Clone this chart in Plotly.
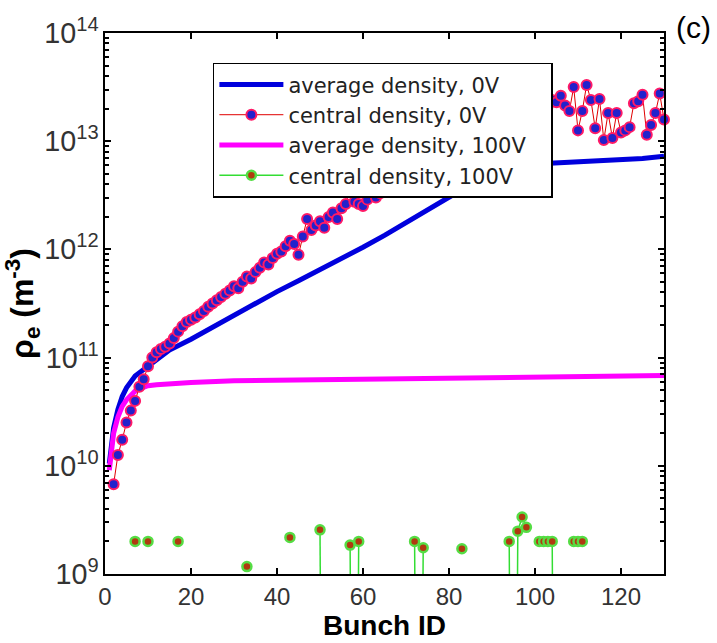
import plotly.graph_objects as go

# ---------------- data ----------------
# average density, 0V  (bunch id, log10 density)
avg0_x = [1, 2, 3, 4, 5, 6, 7, 8, 10, 12, 15, 20, 25, 30, 35, 40, 45, 50, 55, 60,
          65, 70, 75, 80, 85, 90, 95, 100, 105, 110, 115, 120, 125, 130]
avg0_log = [10.02, 10.35, 10.52, 10.64, 10.72, 10.78, 10.83, 10.86, 10.92, 10.97, 11.07,
            11.17, 11.28, 11.39, 11.51, 11.61, 11.71, 11.81, 11.92, 12.02, 12.13, 12.25,
            12.37, 12.49, 12.60, 12.69, 12.76, 12.79, 12.80, 12.81, 12.82, 12.82, 12.84, 12.86]

# average density, 100V
avg100_x = [1, 2, 3, 4, 5, 6, 7, 8, 10, 12, 15, 20, 30, 40, 50, 60, 70, 80, 90, 100,
            110, 120, 130]
avg100_log = [9.96, 10.30, 10.45, 10.55, 10.61, 10.65, 10.69, 10.71, 10.74, 10.75, 10.76,
              10.77, 10.785, 10.79, 10.80, 10.81, 10.81, 10.815, 10.82, 10.82, 10.83,
              10.83, 10.835]

# central density, 0V (one value per bunch, from bunch 2)
cen0_start = 2
cen0_log = [
    9.83, 10.10, 10.24, 10.40, 10.51, 10.60, 10.73, 10.80, 10.92,            # 2-10
    11.00, 11.05, 11.08, 11.10, 11.13, 11.18, 11.24, 11.29, 11.33, 11.35,     # 11-20
    11.37, 11.40, 11.43, 11.47, 11.50, 11.53, 11.56, 11.59, 11.62, 11.66,     # 21-30
    11.64, 11.70, 11.75, 11.73, 11.79, 11.83, 11.88, 11.86, 11.92, 11.96,     # 31-40
    11.98, 12.03, 12.08, 12.05, 11.95, 12.12, 12.28, 12.18, 12.22, 12.26,     # 41-50
    12.20, 12.30, 12.34, 12.28, 12.38, 12.42, 12.56, 12.44, 12.42, 12.40,     # 51-60
    12.46, 12.56, 12.48, 12.52, 12.58, 12.62, 12.66, 12.70, 12.68, 12.74,     # 61-70
    12.78, 12.80, 12.85, 12.83, 12.88, 12.92, 12.95, 12.93, 13.00, 13.04,     # 71-80
    13.02, 13.08, 13.12, 13.10, 13.16, 13.20, 13.18, 13.24, 13.28, 13.22,     # 81-90
    13.30, 13.34, 13.26, 13.38, 13.32, 13.40, 13.36, 13.30, 13.42, 13.35,     # 91-100
    13.28, 13.40, 13.33, 13.38, 13.36, 13.42, 13.33, 13.28, 13.50, 13.10,     # 101-110
    13.28, 13.52, 13.38, 13.12, 13.39, 13.01, 13.26, 13.03, 13.26, 13.08,     # 111-120
    13.10, 13.13, 13.35, 13.37, 13.43, 13.06, 13.15, 13.26, 13.44, 13.20,     # 121-130
]

# central density, 100V: bunches with a measured value
cen100_x = [7, 10, 17, 33, 43, 50, 57, 59, 72, 74, 83, 94, 96, 97, 98,
            101, 102, 103, 104, 109, 110, 111]
cen100_y = [2.0e9, 2.0e9, 2.0e9, 1.17e9, 2.18e9, 2.56e9, 1.85e9, 2.0e9, 2.0e9, 1.75e9,
            1.71e9, 2.0e9, 2.49e9, 3.36e9, 2.7e9, 2.0e9, 2.0e9, 2.0e9, 2.0e9,
            2.0e9, 2.0e9, 2.0e9]
# bunches where the central density is (almost) zero but still joined by the line
cen100_low_x = [51, 58, 73, 95, 105]
cen100_low_y = [1.0e3, 1.0e3, 1.0e3, 1.0e3, 1.0e3]

# ---------------- build ----------------
avg0_y = [10 ** v for v in avg0_log]
avg100_y = [10 ** v for v in avg100_log]
cen0_x = list(range(cen0_start, cen0_start + len(cen0_log)))
cen0_y = [10 ** v for v in cen0_log]

pts = sorted(list(zip(cen100_x, cen100_y)) + list(zip(cen100_low_x, cen100_low_y)))
g_x, g_y = [], []
prev = None
for x, y in pts:
    if prev is not None and x - prev > 1:
        g_x.append(None)
        g_y.append(None)
    g_x.append(x)
    g_y.append(y)
    prev = x

FONT = "Liberation Sans, Arial, sans-serif"
PAD = "\u00a0" * 3  # keeps the legend box as wide as in the original

fig = go.Figure()
fig.add_trace(go.Scatter(x=avg0_x, y=avg0_y, mode="lines", name="average density, 0V",
                         line=dict(color="#0000dd", width=5), legendrank=1))
fig.add_trace(go.Scatter(x=avg100_x, y=avg100_y, mode="lines",
                         name="average density, 100V" + PAD,
                         line=dict(color="#ff00ff", width=5), legendrank=3))
fig.add_trace(go.Scatter(x=cen0_x, y=cen0_y, mode="lines+markers", name="central density, 0V",
                         line=dict(color="#e00000", width=1),
                         marker=dict(size=10, color="#2222cc",
                                     line=dict(color="#ff1a66", width=2)),
                         cliponaxis=False, legendrank=2))
fig.add_trace(go.Scatter(x=g_x, y=g_y, mode="lines+markers", name="central density, 100V",
                         line=dict(color="#33dd33", width=1.5),
                         marker=dict(size=9, color="#b03a10",
                                     line=dict(color="#55dd44", width=2.5)),
                         connectgaps=False, legendrank=4))

fig.update_layout(
    width=717, height=643,
    margin=dict(l=105, r=53, t=33, b=60),
    paper_bgcolor="white", plot_bgcolor="white",
    font=dict(family=FONT, size=22, color="#222222"),
    showlegend=True,
    legend=dict(x=0.193, y=0.945, xanchor="left", yanchor="top",
                bgcolor="white", bordercolor="black", borderwidth=1.5,
                font=dict(size=21, color="#222222", family="DejaVu Sans"),
                tracegroupgap=0, itemwidth=64),
    annotations=[dict(text="(c)", xref="paper", yref="paper", x=1.018, y=1.01,
                      xanchor="left", yanchor="middle", showarrow=False,
                      font=dict(size=30, color="black", family=FONT))],
)
fig.update_xaxes(range=[0, 130], dtick=20, ticks="inside", ticklen=6, tickwidth=1.5,
                 tickcolor="black", showline=True, linecolor="black", linewidth=1.5,
                 mirror="ticks", showgrid=False, zeroline=False,
                 tickfont=dict(size=24, color="#333333"),
                 title=dict(text="<b>Bunch ID</b>", font=dict(size=28, color="black"),
                            standoff=2))
fig.update_yaxes(type="log", range=[9, 14], dtick=1, exponentformat="power",
                 ticks="inside", ticklen=6, tickwidth=1.5, tickcolor="black",
                 minor=dict(ticks="inside", ticklen=4, tickcolor="black", dtick="D1"),
                 showline=True, linecolor="black", linewidth=1.5, mirror="ticks",
                 showgrid=False, zeroline=False,
                 tickfont=dict(size=23, color="#333333"),
                 title=dict(text="<b>ρ<sub>e</sub> (m<sup>-3</sup>)</b>",
                            font=dict(size=32, color="black"), standoff=4))

fig.write_html("out.html")
